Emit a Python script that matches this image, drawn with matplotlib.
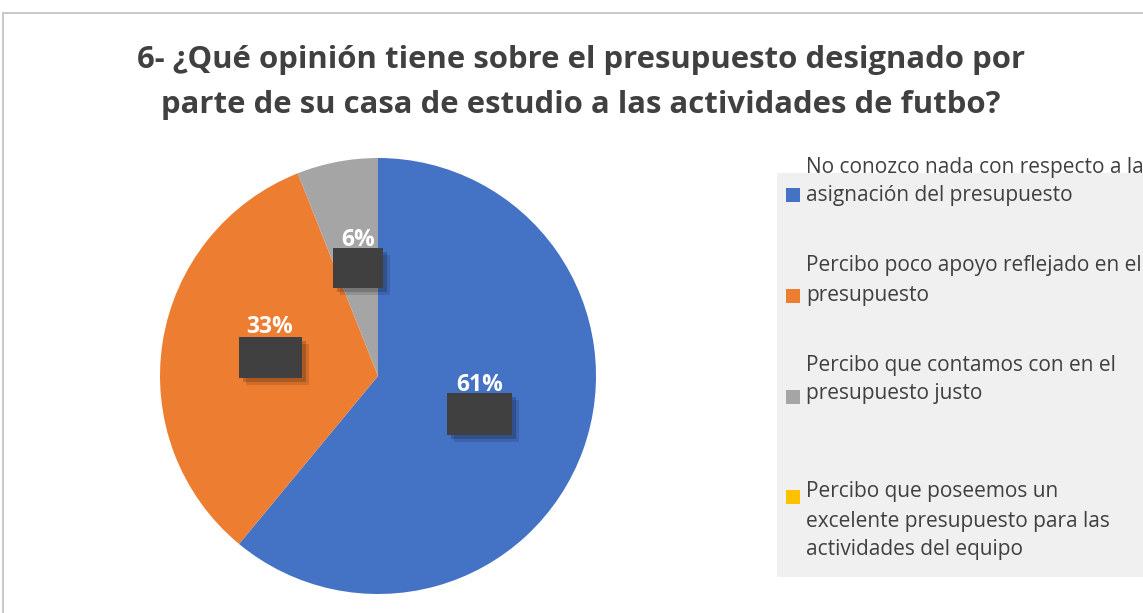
import matplotlib
matplotlib.use("Agg")
import matplotlib.pyplot as plt
from matplotlib.patches import Rectangle

plt.rcParams["font.family"] = ["Open Sans", "DejaVu Sans"]

categories = [
    ["No conozco nada con respecto a la", "asignación del presupuesto"],
    ["Percibo poco apoyo reflejado en el", "presupuesto"],
    ["Percibo que contamos con en el", "presupuesto justo"],
    ["Percibo que poseemos un", "excelente presupuesto para las", "actividades del equipo"],
]
values = [61, 33, 6, 0]
colors = ["#4472C4", "#ED7D31", "#A5A5A5", "#FFC000"]
title_lines = ["6- ¿Qué opinión tiene sobre el presupuesto designado por",
               "parte de su casa de estudio a las actividades de futbo?"]

W, H = 1143, 613
fig = plt.figure(figsize=(W / 100, H / 100), dpi=100)

# chart frame (cut off at right/bottom)
fig.patches.append(Rectangle((3 / W, -0.1), 1.2, (H - 13) / H + 0.1,
                             transform=fig.transFigure, fill=False,
                             edgecolor="#BFBFBF", linewidth=1.2))

for line, y in zip(title_lines, [60, 105]):
    fig.text(581 / W, 1 - y / H, line, ha="center", va="center",
             fontsize=22.4, fontweight="bold", color="#404040")

# pie
cx, cy, r = 378, 376, 218
ax = fig.add_axes([(cx - r) / W, (H - cy - r) / H, 2 * r / W, 2 * r / H])
wedges, _ = ax.pie(values, colors=colors, startangle=90, counterclock=False,
                   radius=1, wedgeprops=dict(linewidth=0))
ax.set_xlim(-1, 1)
ax.set_ylim(-1, 1)
ax.set_aspect("equal")
ax.axis("off")


def px(x, y):
    return (x - cx) / r, (cy - y) / r


# label boxes and percent labels
label_pos = [(480, 385), (270, 327), (358, 240)]
box_pos = [(447, 393, 512, 435), (239, 337, 302, 378), (333, 248, 383, 288)]
for v, (lx, ly), (x0, y0, x1, y1) in zip(values[:3], label_pos, box_pos):
    bx, by = px(x0, y1)
    bw, bh = (x1 - x0) / r, (y1 - y0) / r
    for k, a in [(0.03, 0.12), (0.02, 0.18)]:
        ax.add_patch(Rectangle((bx + k, by - k), bw, bh, color="#000000",
                               alpha=a, zorder=3, linewidth=0))
    ax.add_patch(Rectangle((bx, by), bw, bh, color="#404040", zorder=4,
                           linewidth=0))
    tx, ty = px(lx, ly)
    ax.text(tx, ty, f"{v}%", ha="center", va="center", color="white",
            fontsize=16.5, fontweight="bold", zorder=5)

# legend
fig.patches.append(Rectangle((777 / W, 1 - 577 / H), (W - 777) / W, (577 - 173) / H,
                             transform=fig.transFigure, facecolor="#F0F0F0",
                             edgecolor="none", zorder=0))
line_y = [[166, 193], [263, 293], [363, 391], [490, 520, 548]]
marker_y = [195, 296, 397, 497]
for lines, c, ys, my in zip(categories, colors, line_y, marker_y):
    fig.patches.append(Rectangle((786 / W, 1 - (my + 7) / H), 14 / W, 14 / H,
                                 transform=fig.transFigure, facecolor=c,
                                 edgecolor="none", zorder=2))
    for line, y in zip(lines, ys):
        fig.text(806 / W, 1 - (y + 2) / H, line, ha="left", va="center",
                 fontsize=15, color="#404040", zorder=3)

fig.savefig("out.png", dpi=100)
